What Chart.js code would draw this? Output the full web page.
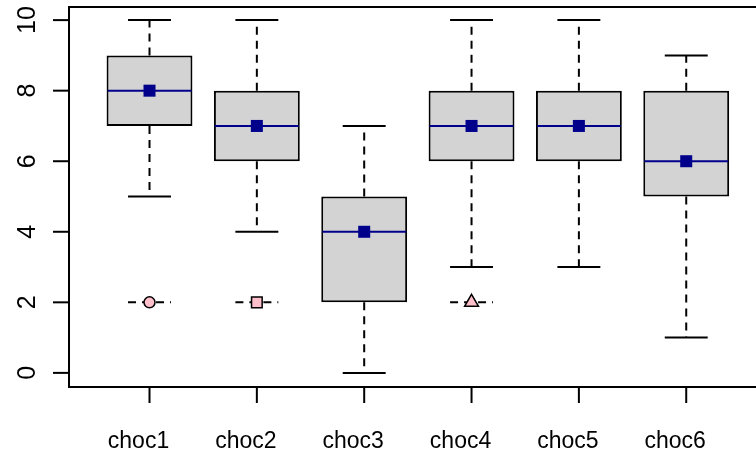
<!DOCTYPE html>
<html>
<head>
<meta charset="utf-8">
<script src="https://cdn.jsdelivr.net/npm/chart.js@4"></script>
<style>
  html, body { margin: 0; padding: 0; background: #fff; overflow: hidden; }
  canvas { display: block; }
</style>
</head>
<body>
<canvas id="c" width="756" height="455"></canvas>
<script>
const categories = ['choc1', 'choc2', 'choc3', 'choc4', 'choc5', 'choc6'];
const lowerWhisker = [5, 4, 0, 3, 3, 1];
const q1 = [7, 6, 2, 6, 6, 5];
const medians = [8, 7, 4, 7, 7, 6];
const q3 = [9, 8, 5, 8, 8, 8];
const upperWhisker = [10, 10, 7, 10, 10, 9];
const means = [8, 7, 4, 7, 7, 6];
const outlierValues = [2, 2, null, 2, null, null];
const outlierShapes = ['circle', 'rect', null, 'triangle', null, null];
const yTicks = [0, 2, 4, 6, 8, 10];

const X_FONT = '23px "Liberation Sans", Arial, Helvetica, sans-serif';
const Y_FONT = '25px "Liberation Sans", Arial, Helvetica, sans-serif';
const BOX_WIDTH = 0.8;
const CAP_WIDTH = 0.4;

const outlierIdx = categories.map((c, i) => i).filter(i => outlierValues[i] !== null);

const boxPlugin = {
  id: 'boxParts',
  afterDatasetDraw(chart, args) {
    if (args.index !== 0) return;
    const ctx = chart.ctx;
    const xs = chart.scales.x, ys = chart.scales.y;
    ctx.save();
    categories.forEach((c, i) => {
      const v = i + 1;
      const cx = xs.getPixelForValue(v);
      const capL = xs.getPixelForValue(v - CAP_WIDTH / 2);
      const capR = xs.getPixelForValue(v + CAP_WIDTH / 2);
      const boxL = xs.getPixelForValue(v - BOX_WIDTH / 2);
      const boxR = xs.getPixelForValue(v + BOX_WIDTH / 2);
      ctx.strokeStyle = '#000';
      ctx.lineWidth = 2;
      ctx.setLineDash([8, 6]);
      ctx.beginPath();
      ctx.moveTo(cx, ys.getPixelForValue(q3[i]));
      ctx.lineTo(cx, ys.getPixelForValue(upperWhisker[i]));
      ctx.moveTo(cx, ys.getPixelForValue(q1[i]));
      ctx.lineTo(cx, ys.getPixelForValue(lowerWhisker[i]));
      ctx.stroke();
      if (outlierValues[i] !== null) {
        const oy = ys.getPixelForValue(outlierValues[i]);
        ctx.beginPath();
        ctx.moveTo(capL, oy);
        ctx.lineTo(capR, oy);
        ctx.stroke();
      }
      ctx.setLineDash([]);
      ctx.beginPath();
      const uy = ys.getPixelForValue(upperWhisker[i]);
      const ly = ys.getPixelForValue(lowerWhisker[i]);
      ctx.moveTo(capL, uy); ctx.lineTo(capR, uy);
      ctx.moveTo(capL, ly); ctx.lineTo(capR, ly);
      ctx.stroke();
      ctx.strokeStyle = '#00008B';
      ctx.lineWidth = 2;
      const my = ys.getPixelForValue(medians[i]);
      ctx.beginPath();
      ctx.moveTo(boxL + 1, my); ctx.lineTo(boxR - 1, my);
      ctx.stroke();
    });
    ctx.restore();
  },
  afterDraw(chart) {
    const ctx = chart.ctx;
    const xs = chart.scales.x, ys = chart.scales.y;
    const a = chart.chartArea;
    ctx.save();
    ctx.strokeStyle = '#000';
    ctx.lineWidth = 2;
    ctx.setLineDash([]);
    ctx.beginPath();
    ctx.moveTo(a.right + 5, a.top + 1);
    ctx.lineTo(a.left, a.top + 1);
    ctx.lineTo(a.left, a.bottom);
    ctx.lineTo(a.right + 5, a.bottom);
    ctx.stroke();
    ctx.fillStyle = '#000';
    yTicks.forEach(t => {
      const y = ys.getPixelForValue(t);
      ctx.beginPath();
      ctx.moveTo(a.left - 16, y);
      ctx.lineTo(a.left, y);
      ctx.stroke();
      ctx.save();
      ctx.translate(a.left - 34, y);
      ctx.rotate(-Math.PI / 2);
      ctx.textAlign = 'center';
      ctx.textBaseline = 'alphabetic';
      ctx.font = Y_FONT;
      ctx.fillText(String(t), 0, 0);
      ctx.restore();
    });
    ctx.font = X_FONT;
    categories.forEach((c, i) => {
      const x = xs.getPixelForValue(i + 1);
      ctx.beginPath();
      ctx.moveTo(x, a.bottom);
      ctx.lineTo(x, a.bottom + 16);
      ctx.stroke();
      ctx.textAlign = 'center';
      ctx.textBaseline = 'alphabetic';
      ctx.fillText(c, x - 11, a.bottom + 61);
    });
    ctx.restore();
  }
};

new Chart(document.getElementById('c'), {
  type: 'bar',
  data: {
    datasets: [
      {
        type: 'bar',
        data: categories.map((c, i) => ({ x: i + 1, y: [q1[i], q3[i]] })),
        backgroundColor: '#D3D3D3',
        borderColor: '#000',
        borderWidth: 2,
        borderSkipped: false,
        categoryPercentage: 1,
        barPercentage: BOX_WIDTH,
        order: 3
      },
      {
        type: 'scatter',
        data: categories.map((c, i) => ({ x: i + 1, y: means[i] })),
        pointStyle: 'rect',
        pointRadius: 8.5,
        backgroundColor: '#00008B',
        borderColor: '#00008B',
        borderWidth: 0,
        order: 1
      },
      {
        type: 'scatter',
        data: outlierIdx.map(i => ({ x: i + 1, y: outlierValues[i] })),
        pointStyle: outlierIdx.map(i => outlierShapes[i]),
        pointRadius: outlierIdx.map(i => outlierShapes[i] === 'circle' ? 5.5 : (outlierShapes[i] === 'rect' ? 7.5 : 8)),
        backgroundColor: '#FFC0CB',
        borderColor: '#000',
        borderWidth: 1.5,
        order: 1
      }
    ]
  },
  options: {
    responsive: false,
    animation: false,
    layout: { autoPadding: false, padding: { left: 69, top: 6, right: 0, bottom: 68 } },
    scales: {
      x: {
        type: 'linear', min: 0.25, max: 6.65, offset: false, display: false,
        afterBuildTicks: (scale) => { scale.ticks = categories.map((c, i) => ({ value: i + 1 })); }
      },
      y: { type: 'linear', min: -0.4, max: 10.4, display: false }
    },
    plugins: { legend: { display: false }, tooltip: { enabled: false } }
  },
  plugins: [boxPlugin]
});
</script>
</body>
</html>
